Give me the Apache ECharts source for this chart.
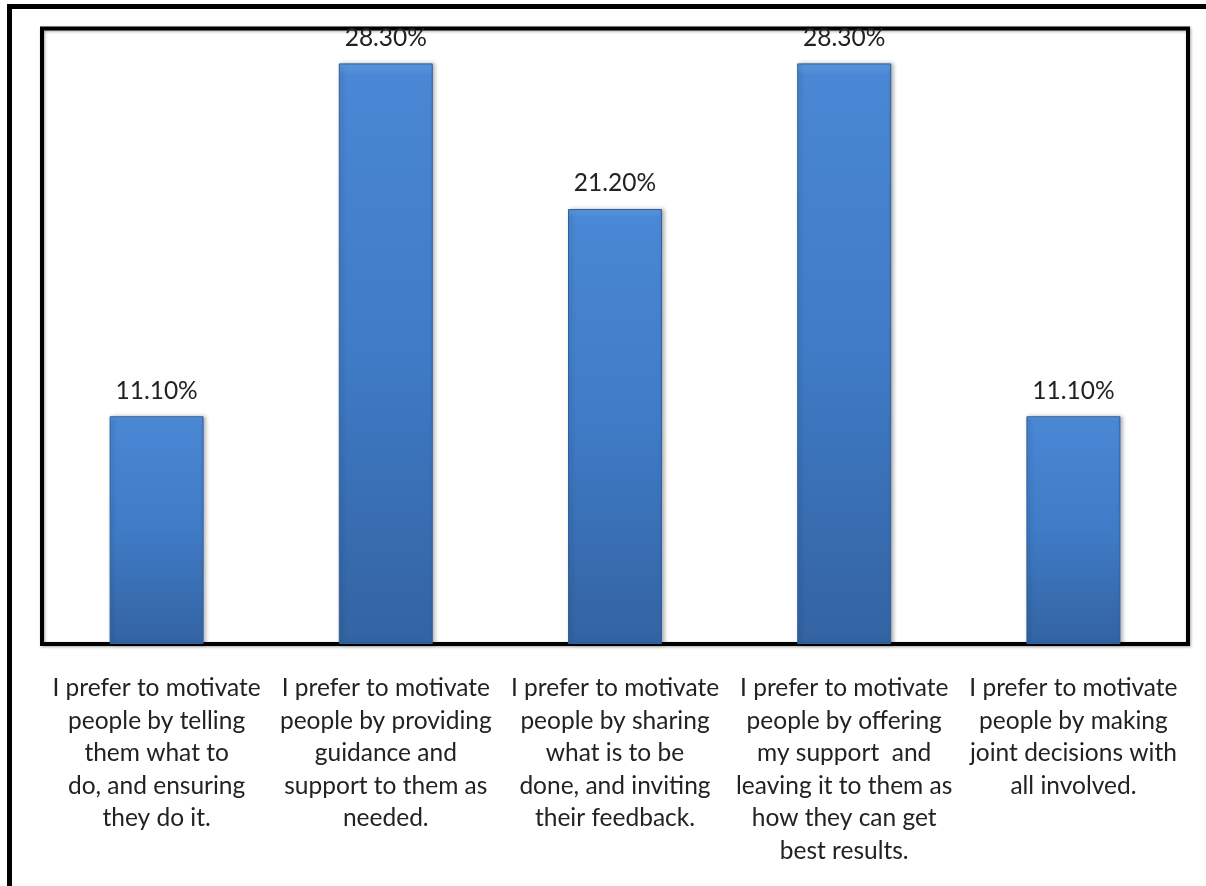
<!DOCTYPE html>
<html>
<head>
<meta charset="utf-8">
<script src="https://cdn.jsdelivr.net/npm/echarts@6/dist/echarts.min.js"></script>
<style>
html,body{margin:0;padding:0;background:#fff;}
#chart{width:1206px;height:886px;}
</style>
</head>
<body>
<div id="chart"></div>
<script>
const categories = [
  "I prefer to motivate\npeople by telling\nthem what to\ndo, and ensuring\nthey do it.",
  "I prefer to motivate\npeople by providing\nguidance and\nsupport to them as\nneeded.",
  "I prefer to motivate\npeople by sharing\nwhat is to be\ndone, and inviting\ntheir feedback.",
  "I prefer to motivate\npeople by offering\nmy support  and\nleaving it to them as\nhow they can get\nbest results.",
  "I prefer to motivate\npeople by making\njoint decisions with\nall involved."
];
const values = [11.1, 28.3, 21.2, 28.3, 11.1];

const chart = echarts.init(document.getElementById('chart'));
const FONT = 'Lato';
chart.setOption({
  animation: false,
  backgroundColor: '#fff',
  graphic: [
    { type: 'line', shape: { x1: 7, y1: 6.5, x2: 1206, y2: 6.5 }, style: { stroke: '#000', lineWidth: 5 } },
    { type: 'line', shape: { x1: 9.5, y1: 4, x2: 9.5, y2: 886 }, style: { stroke: '#000', lineWidth: 5 } }
  ],
  grid: {
    left: 42, top: 28.5, right: 18, bottom: 242,
    show: true, borderColor: '#000', borderWidth: 4,
    shadowColor: 'rgba(0,0,0,0.35)', shadowBlur: 3, shadowOffsetX: 1, shadowOffsetY: 1
  },
  xAxis: {
    type: 'category',
    data: categories,
    axisLine: { show: false },
    axisTick: { show: false },
    axisLabel: {
      interval: 0,
      margin: 28,
      fontFamily: FONT,
      fontSize: 24.5,
      lineHeight: 32.5,
      color: '#222',
      align: 'center'
    }
  },
  yAxis: {
    type: 'value',
    min: 0, max: 30,
    show: false,
    splitLine: { show: false }
  },
  series: [{
    type: 'bar',
    data: values,
    barWidth: 94,
    itemStyle: {
      color: {
        type: 'linear', x: 0, y: 0, x2: 0, y2: 1,
        colorStops: [
          { offset: 0, color: '#5c9ae2' },
          { offset: 0.02, color: '#4a87d4' },
          { offset: 0.5, color: '#3f7bc6' },
          { offset: 1, color: '#3363a2' }
        ]
      },
      borderColor: '#2f5f9e',
      borderWidth: 1,
      shadowColor: 'rgba(0,0,0,0.3)',
      shadowBlur: 4,
      shadowOffsetX: 2,
      shadowOffsetY: 0
    },
    label: {
      show: true,
      position: 'top',
      distance: 13,
      fontFamily: FONT,
      fontSize: 24.5,
      color: '#222',
      formatter: p => p.value.toFixed(2) + '%'
    }
  }]
});
</script>
</body>
</html>
